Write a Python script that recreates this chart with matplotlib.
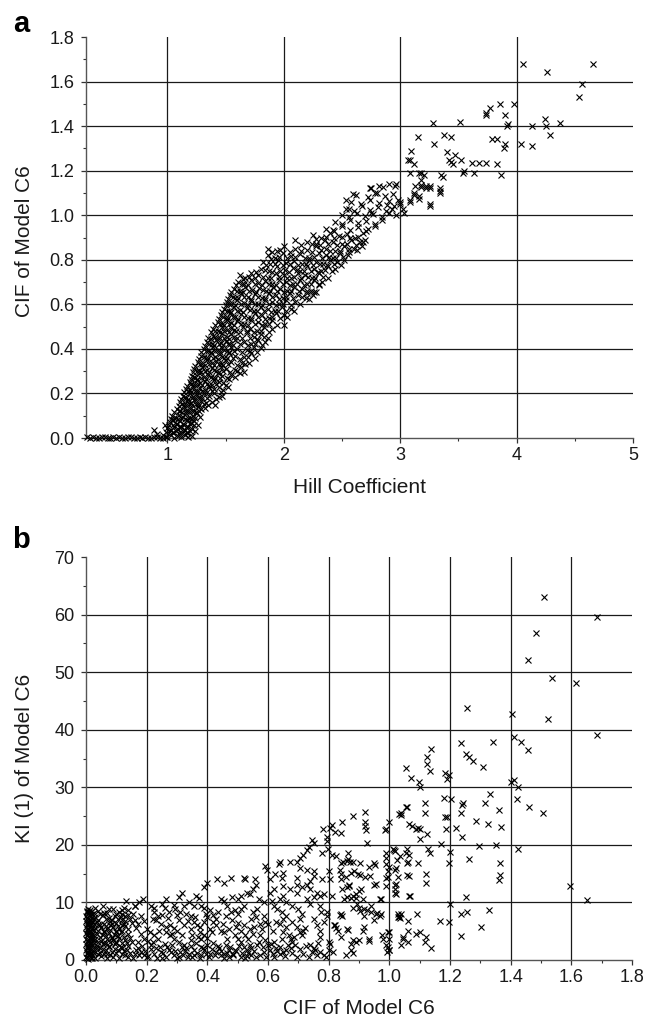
import matplotlib
matplotlib.use("Agg")
import matplotlib.pyplot as plt
from matplotlib.ticker import MultipleLocator

plt.rcParams['font.family'] = ['Liberation Sans', 'DejaVu Sans']

# ---------------- Panel a data: Hill coefficient vs CIF of Model C6 ----------------
a_flat_x = [0.31, 0.335, 0.36, 0.385, 0.41, 0.435, 0.46, 0.485, 0.51, 0.535, 0.56, 0.585,
            0.61, 0.635, 0.66, 0.685, 0.71, 0.735, 0.76, 0.785, 0.81, 0.835, 0.86, 0.885,
            0.91, 0.935, 0.96, 0.985]
a_flat_y = [0.003, 0.0, 0.004, 0.002, 0.0, 0.003, 0.004, 0.0, 0.002, 0.003, 0.0, 0.004,
            0.002, 0.0, 0.003, 0.004, 0.0, 0.002, 0.003, 0.0, 0.004, 0.002, 0.0, 0.003,
            0.004, 0.0, 0.002, 0.003]

a_band = [
    (0.96, 0.012), (1.0, 0.004), (1.03, 0.015), (1.06, 0.002), (1.09, 0.01), (1.12, 0.003),
    (1.15, 0.014), (1.18, 0.005), (1.21, 0.01), (0.99, 0.025), (1.05, 0.022), (1.11, 0.02),
    (1.17, 0.026), (0.91, 0.02), (0.88, 0.035),
    (1.0, 0.045), (1.03, 0.035), (1.06, 0.05), (1.09, 0.04), (1.12, 0.048), (1.15, 0.036),
    (1.18, 0.05), (1.21, 0.04), (1.24, 0.03), (0.98, 0.06),
    (1.02, 0.07), (1.05, 0.08), (1.08, 0.065), (1.11, 0.075), (1.14, 0.06), (1.17, 0.08),
    (1.2, 0.068), (1.23, 0.075), (1.26, 0.06),
    (1.04, 0.1), (1.07, 0.09), (1.1, 0.105), (1.13, 0.095), (1.16, 0.11), (1.19, 0.092),
    (1.22, 0.1), (1.25, 0.11), (1.28, 0.095),
    (1.08, 0.13), (1.11, 0.12), (1.14, 0.14), (1.17, 0.125), (1.2, 0.135), (1.23, 0.12),
    (1.26, 0.14), (1.29, 0.128), (1.32, 0.135),
    (1.11, 0.16), (1.14, 0.15), (1.17, 0.165), (1.2, 0.155), (1.23, 0.17), (1.26, 0.152),
    (1.29, 0.165), (1.33, 0.155), (1.38, 0.16), (1.41, 0.15),
    (1.13, 0.19), (1.16, 0.18), (1.19, 0.2), (1.22, 0.185), (1.25, 0.195), (1.28, 0.18),
    (1.31, 0.2), (1.36, 0.19), (1.4, 0.2), (1.44, 0.185), (1.47, 0.188),
    (1.16, 0.22), (1.19, 0.215), (1.22, 0.23), (1.25, 0.21), (1.28, 0.225), (1.32, 0.215),
    (1.36, 0.23), (1.4, 0.22), (1.44, 0.23), (1.48, 0.215), (1.52, 0.23),
    (1.19, 0.25), (1.22, 0.24), (1.25, 0.26), (1.28, 0.245), (1.32, 0.255), (1.36, 0.24),
    (1.4, 0.26), (1.44, 0.25), (1.48, 0.245),
    (1.21, 0.28), (1.24, 0.27), (1.27, 0.29), (1.31, 0.275), (1.35, 0.285), (1.39, 0.27),
    (1.43, 0.29), (1.47, 0.28), (1.51, 0.27), (1.55, 0.285), (1.62, 0.29),
    (1.23, 0.31), (1.27, 0.3), (1.3, 0.32), (1.34, 0.305), (1.38, 0.315), (1.42, 0.3),
    (1.46, 0.32), (1.5, 0.31), (1.58, 0.305), (1.63, 0.32),
    (1.26, 0.34), (1.3, 0.33), (1.34, 0.35), (1.38, 0.335), (1.42, 0.345), (1.46, 0.33),
    (1.5, 0.35), (1.55, 0.34), (1.64, 0.335), (1.7, 0.336),
    (1.29, 0.37), (1.33, 0.36), (1.37, 0.38), (1.41, 0.365), (1.45, 0.375), (1.49, 0.36),
    (1.53, 0.38), (1.58, 0.37), (1.66, 0.365), (1.72, 0.38),
    (1.31, 0.4), (1.35, 0.39), (1.39, 0.41), (1.43, 0.395), (1.47, 0.405), (1.51, 0.39),
    (1.55, 0.41), (1.6, 0.4), (1.68, 0.395), (1.74, 0.41), (1.8, 0.403),
    (1.34, 0.43), (1.38, 0.42), (1.42, 0.44), (1.46, 0.425), (1.5, 0.435), (1.54, 0.42),
    (1.58, 0.44), (1.66, 0.43), (1.72, 0.42), (1.78, 0.44), (1.84, 0.43),
    (1.35, 0.448), (1.39, 0.46), (1.43, 0.45), (1.47, 0.47), (1.51, 0.455), (1.55, 0.465),
    (1.6, 0.45), (1.68, 0.47), (1.74, 0.455), (1.8, 0.465), (1.86, 0.45),
    (1.39, 0.49), (1.43, 0.48), (1.47, 0.5), (1.51, 0.485), (1.55, 0.495), (1.59, 0.48),
    (1.65, 0.5), (1.71, 0.49), (1.77, 0.48), (1.83, 0.5), (1.9, 0.49),
    (1.43, 0.52), (1.47, 0.51), (1.51, 0.53), (1.55, 0.515), (1.6, 0.525), (1.66, 0.51),
    (1.72, 0.53), (1.78, 0.52), (1.84, 0.51), (1.9, 0.53), (2.0, 0.507),
    (1.46, 0.55), (1.5, 0.54), (1.54, 0.56), (1.58, 0.545), (1.63, 0.555), (1.69, 0.54),
    (1.75, 0.56), (1.81, 0.55), (1.87, 0.54), (1.93, 0.56), (2.0, 0.55),
    (1.49, 0.58), (1.53, 0.57), (1.57, 0.59), (1.62, 0.575), (1.68, 0.585), (1.74, 0.57),
    (1.8, 0.59), (1.86, 0.58), (1.92, 0.57), (1.98, 0.59), (2.06, 0.58),
    (1.51, 0.61), (1.55, 0.6), (1.6, 0.62), (1.66, 0.605), (1.72, 0.615), (1.78, 0.6),
    (1.84, 0.62), (1.9, 0.61), (1.96, 0.6), (2.02, 0.62), (2.1, 0.61), (2.19, 0.627),
    (1.54, 0.64), (1.58, 0.63), (1.63, 0.65), (1.69, 0.635), (1.75, 0.645), (1.81, 0.63),
    (1.87, 0.65), (1.93, 0.64), (1.99, 0.63), (2.05, 0.65), (2.12, 0.64), (2.2, 0.65),
    (2.25, 0.64),
    (1.57, 0.67), (1.62, 0.66), (1.67, 0.68), (1.73, 0.665), (1.79, 0.675), (1.85, 0.66),
    (1.91, 0.68), (1.97, 0.67), (2.03, 0.66), (2.09, 0.68), (2.16, 0.67), (2.23, 0.66),
    (2.28, 0.657),
    (1.61, 0.7), (1.66, 0.69), (1.72, 0.71), (1.78, 0.695), (1.84, 0.705), (1.9, 0.69),
    (1.96, 0.71), (2.02, 0.7), (2.08, 0.69), (2.14, 0.71), (2.2, 0.69), (2.26, 0.71),
    (2.33, 0.7),
    (1.62, 0.73), (1.67, 0.72), (1.72, 0.74), (1.78, 0.73), (1.86, 0.72), (1.93, 0.74),
    (2.0, 0.73), (2.06, 0.72), (2.12, 0.74), (2.18, 0.73), (2.24, 0.72), (2.3, 0.74),
    (2.38, 0.72), (2.3, 0.69),
    (1.8, 0.76), (1.87, 0.75), (1.94, 0.77), (2.01, 0.755), (2.08, 0.765), (2.14, 0.75),
    (2.2, 0.77), (2.26, 0.76), (2.32, 0.75), (2.38, 0.77), (2.44, 0.76),
    (1.82, 0.79), (1.88, 0.78), (1.95, 0.8), (2.02, 0.785), (2.09, 0.795), (2.16, 0.78),
    (2.22, 0.8), (2.28, 0.79), (2.34, 0.78), (2.4, 0.8), (2.46, 0.79), (2.52, 0.8),
    (1.86, 0.82), (1.92, 0.81), (1.99, 0.83), (2.06, 0.815), (2.14, 0.825), (2.22, 0.81),
    (2.3, 0.83), (2.36, 0.82), (2.42, 0.81), (2.48, 0.83), (2.55, 0.82),
    (1.86, 0.85), (1.94, 0.84), (2.0, 0.86), (2.1, 0.85), (2.2, 0.845), (2.28, 0.86),
    (2.36, 0.85), (2.44, 0.84), (2.52, 0.86), (2.6, 0.85), (2.67, 0.86),
    (2.1, 0.89), (2.2, 0.88), (2.28, 0.87), (2.35, 0.89), (2.42, 0.88), (2.5, 0.87),
    (2.58, 0.89), (2.65, 0.88), (2.7, 0.89),
    (2.25, 0.91), (2.32, 0.9), (2.4, 0.92), (2.47, 0.905), (2.54, 0.915), (2.61, 0.9),
    (2.68, 0.92), (2.72, 0.94),
    (2.36, 0.94), (2.43, 0.93), (2.5, 0.95), (2.57, 0.935), (2.64, 0.945), (2.71, 0.93),
    (2.78, 0.95),
    (2.44, 0.97), (2.5, 0.96), (2.57, 0.98), (2.64, 0.965), (2.71, 0.975), (2.78, 0.96),
    (2.84, 0.98),
    (2.5, 1.0), (2.56, 0.99), (2.63, 1.01), (2.7, 0.995), (2.77, 1.005), (2.84, 0.99),
    (2.9, 1.01), (2.96, 1.0),
    (2.53, 1.03), (2.6, 1.02), (2.67, 1.04), (2.74, 1.025), (2.81, 1.035), (2.88, 1.02),
    (2.95, 1.04), (3.02, 1.03), (2.93, 1.03),
    (2.58, 1.06), (2.66, 1.05), (2.74, 1.07), (2.82, 1.055), (2.9, 1.065), (2.98, 1.07),
    (3.0, 1.05), (3.08, 1.06),
    (2.62, 1.09), (2.72, 1.08), (2.8, 1.1), (2.87, 1.085), (2.94, 1.095), (3.12, 1.1),
    (3.16, 1.085), (3.26, 1.05),
    (2.74, 1.12), (2.82, 1.13), (2.9, 1.14), (2.96, 1.14), (3.18, 1.135), (3.22, 1.13),
    (3.26, 1.13), (3.34, 1.12), (3.34, 1.10),
]

a_band2 = [
    (1.015, 0.03), (1.045, 0.025), (1.075, 0.033), (1.105, 0.027), (1.135, 0.031), (1.165, 0.024), (1.195, 0.03),
    (1.01, 0.06), (1.045, 0.057), (1.075, 0.062), (1.105, 0.055), (1.135, 0.061), (1.165, 0.056), (1.195, 0.063), (1.225, 0.058),
    (1.03, 0.085), (1.06, 0.092), (1.09, 0.087), (1.12, 0.091), (1.15, 0.086), (1.18, 0.09), (1.21, 0.084), (1.24, 0.092),
    (1.06, 0.115), (1.095, 0.122), (1.125, 0.117), (1.155, 0.121), (1.185, 0.116), (1.215, 0.123), (1.245, 0.118), (1.275, 0.12),
    (1.095, 0.145), (1.125, 0.152), (1.155, 0.147), (1.185, 0.151), (1.215, 0.146), (1.245, 0.153), (1.275, 0.148), (1.31, 0.151), (1.35, 0.146),
    (1.12, 0.175), (1.15, 0.182), (1.18, 0.177), (1.21, 0.181), (1.24, 0.176), (1.27, 0.183), (1.3, 0.178), (1.34, 0.181), (1.42, 0.177),
    (1.14, 0.205), (1.175, 0.212), (1.205, 0.207), (1.235, 0.211), (1.265, 0.206), (1.3, 0.213), (1.34, 0.208), (1.38, 0.211), (1.46, 0.206),
    (1.17, 0.235), (1.205, 0.242), (1.235, 0.237), (1.265, 0.241), (1.3, 0.236), (1.34, 0.243), (1.38, 0.238), (1.42, 0.241), (1.5, 0.236),
    (1.2, 0.265), (1.225, 0.272), (1.255, 0.267), (1.29, 0.271), (1.33, 0.266), (1.37, 0.273), (1.41, 0.268), (1.45, 0.271), (1.53, 0.266), (1.58, 0.272),
    (1.22, 0.295), (1.25, 0.302), (1.285, 0.297), (1.32, 0.301), (1.36, 0.296), (1.4, 0.303), (1.44, 0.298), (1.48, 0.301), (1.54, 0.296), (1.6, 0.302), (1.66, 0.298),
    (1.24, 0.325), (1.28, 0.332), (1.32, 0.327), (1.36, 0.331), (1.4, 0.326), (1.44, 0.333), (1.48, 0.328), (1.52, 0.331), (1.6, 0.326), (1.67, 0.332),
    (1.27, 0.355), (1.31, 0.362), (1.35, 0.357), (1.39, 0.361), (1.43, 0.356), (1.47, 0.363), (1.51, 0.358), (1.56, 0.361), (1.62, 0.356), (1.69, 0.362), (1.75, 0.357),
    (1.29, 0.385), (1.33, 0.392), (1.37, 0.387), (1.41, 0.391), (1.45, 0.386), (1.49, 0.393), (1.53, 0.388), (1.57, 0.391), (1.64, 0.386), (1.71, 0.392), (1.77, 0.388),
    (1.32, 0.415), (1.36, 0.422), (1.4, 0.417), (1.44, 0.421), (1.48, 0.416), (1.52, 0.423), (1.56, 0.418), (1.62, 0.421), (1.69, 0.416), (1.75, 0.422), (1.81, 0.418),
    (1.37, 0.445), (1.41, 0.452), (1.45, 0.447), (1.49, 0.451), (1.53, 0.446), (1.57, 0.453), (1.64, 0.448), (1.71, 0.451), (1.77, 0.446), (1.83, 0.452),
    (1.37, 0.475), (1.41, 0.482), (1.45, 0.477), (1.49, 0.481), (1.53, 0.476), (1.57, 0.483), (1.62, 0.478), (1.68, 0.481), (1.74, 0.476), (1.8, 0.482), (1.87, 0.478),
    (1.41, 0.505), (1.45, 0.512), (1.49, 0.507), (1.53, 0.511), (1.57, 0.506), (1.63, 0.513), (1.69, 0.508), (1.75, 0.511), (1.81, 0.506), (1.87, 0.512), (1.94, 0.508),
    (1.44, 0.535), (1.48, 0.542), (1.52, 0.537), (1.56, 0.541), (1.61, 0.536), (1.66, 0.543), (1.72, 0.538), (1.78, 0.541), (1.84, 0.536), (1.9, 0.542), (1.97, 0.538), (2.03, 0.541),
    (1.47, 0.565), (1.51, 0.572), (1.55, 0.567), (1.6, 0.571), (1.65, 0.566), (1.71, 0.573), (1.77, 0.568), (1.83, 0.571), (1.89, 0.566), (1.95, 0.572), (2.02, 0.568), (2.09, 0.571),
    (1.5, 0.595), (1.53, 0.602), (1.58, 0.597), (1.63, 0.601), (1.69, 0.596), (1.75, 0.603), (1.81, 0.598), (1.87, 0.601), (1.93, 0.596), (1.99, 0.602), (2.06, 0.598), (2.14, 0.601),
    (1.52, 0.625), (1.56, 0.632), (1.61, 0.627), (1.66, 0.631), (1.72, 0.626), (1.78, 0.633), (1.84, 0.628), (1.9, 0.631), (1.96, 0.626), (2.02, 0.632), (2.08, 0.628), (2.16, 0.631), (2.22, 0.626),
    (1.55, 0.655), (1.6, 0.662), (1.65, 0.657), (1.7, 0.661), (1.76, 0.656), (1.82, 0.663), (1.88, 0.658), (1.94, 0.661), (2.0, 0.656), (2.06, 0.662), (2.13, 0.658), (2.2, 0.661), (2.26, 0.656),
    (1.59, 0.685), (1.64, 0.692), (1.69, 0.687), (1.75, 0.691), (1.81, 0.686), (1.87, 0.693), (1.93, 0.688), (1.99, 0.691), (2.05, 0.686), (2.11, 0.692), (2.17, 0.688), (2.23, 0.691), (2.3, 0.686),
    (1.65, 0.715), (1.7, 0.722), (1.75, 0.717), (1.82, 0.721), (1.89, 0.716), (1.96, 0.723), (2.03, 0.718), (2.09, 0.721), (2.15, 0.716), (2.21, 0.722), (2.27, 0.718), (2.34, 0.721),
    (1.76, 0.745), (1.84, 0.752), (1.9, 0.747), (1.97, 0.751), (2.04, 0.746), (2.11, 0.753), (2.17, 0.748), (2.23, 0.751), (2.29, 0.746), (2.35, 0.752), (2.41, 0.748),
    (1.85, 0.775), (1.92, 0.782), (1.99, 0.777), (2.05, 0.781), (2.12, 0.776), (2.19, 0.783), (2.25, 0.778), (2.31, 0.781), (2.37, 0.776), (2.43, 0.782), (2.49, 0.778),
    (1.89, 0.805), (1.96, 0.812), (2.03, 0.807), (2.1, 0.811), (2.18, 0.806), (2.26, 0.813), (2.33, 0.808), (2.39, 0.811), (2.45, 0.806), (2.51, 0.812),
    (1.9, 0.835), (1.97, 0.842), (2.05, 0.837), (2.15, 0.841), (2.24, 0.836), (2.32, 0.843), (2.4, 0.838), (2.48, 0.841), (2.56, 0.836), (2.63, 0.842),
    (2.15, 0.865), (2.24, 0.872), (2.31, 0.867), (2.38, 0.871), (2.46, 0.866), (2.54, 0.873), (2.62, 0.868),
    (2.28, 0.895), (2.36, 0.902), (2.43, 0.897), (2.5, 0.901), (2.57, 0.896), (2.64, 0.902),
]

a_sparse = [
    (4.055, 1.68), (4.26, 1.645), (4.655, 1.68), (4.56, 1.59), (4.535, 1.53), (3.98, 1.50),
    (3.855, 1.50), (3.775, 1.48), (3.735, 1.45), (3.74, 1.46), (3.90, 1.45), (3.28, 1.414),
    (3.51, 1.42), (3.92, 1.40), (3.93, 1.41), (4.13, 1.40), (4.24, 1.43), (4.25, 1.40),
    (4.37, 1.414), (4.29, 1.36), (3.15, 1.35), (3.38, 1.36), (3.435, 1.35), (3.29, 1.32),
    (3.79, 1.34), (3.83, 1.34), (3.90, 1.32), (3.895, 1.30), (4.04, 1.32), (4.13, 1.31),
    (3.09, 1.29), (3.07, 1.247), (3.08, 1.25), (3.12, 1.23), (3.40, 1.285), (3.42, 1.25),
    (3.47, 1.27), (3.52, 1.25), (3.45, 1.23), (3.44, 1.24), (3.62, 1.233), (3.68, 1.233),
    (3.74, 1.233), (3.83, 1.23), (3.87, 1.18), (3.08, 1.19), (3.16, 1.19), (3.18, 1.19),
    (3.20, 1.18), (3.37, 1.17), (3.35, 1.18), (3.54, 1.19), (3.55, 1.2), (3.63, 1.19),
    (3.175, 1.125), (3.22, 1.12), (3.26, 1.12), (3.34, 1.11), (3.26, 1.04), (3.08, 1.07),
    (3.12, 1.09), (3.16, 1.075), (3.0, 1.06), (3.03, 1.01), (3.13, 1.13), (3.18, 1.16),
    (2.955, 1.13), (2.85, 1.125), (2.745, 1.12), (2.78, 1.10), (2.59, 1.095), (2.53, 1.07),
    (2.56, 1.03), (2.885, 1.045), (2.75, 1.01), (2.56, 0.85), (2.42, 0.935), (2.68, 0.88),
]

# ---------------- Panel b data: CIF of Model C6 vs KI(1) of Model C6 ----------------
b_column = [
    (0.003, 0.3), (0.009, 0.8), (0.015, 0.4), (0.004, 1.3), (0.011, 1.8), (0.017, 1.2),
    (0.002, 2.3), (0.008, 2.8), (0.014, 2.2), (0.005, 3.3), (0.012, 3.8), (0.018, 3.1),
    (0.003, 4.3), (0.009, 4.8), (0.015, 4.2), (0.005, 5.3), (0.011, 5.8), (0.017, 5.1),
    (0.002, 6.3), (0.008, 6.8), (0.014, 6.2), (0.004, 7.3), (0.01, 7.8), (0.016, 7.0),
    (0.003, 8.3), (0.012, 8.6), (0.006, 0.9), (0.013, 2.9), (0.007, 4.9), (0.013, 6.9),
    (0.02, 0.8), (0.021, 2.6), (0.02, 4.6), (0.022, 6.6), (0.019, 8.0),
    (0.001, 0.6), (0.007, 0.2), (0.013, 1.0), (0.019, 0.3), (0.025, 1.2),
    (0.001, 1.7), (0.007, 1.2), (0.013, 1.9), (0.019, 1.6), (0.025, 2.2),
    (0.001, 2.7), (0.007, 2.2), (0.013, 3.0), (0.019, 2.6), (0.025, 3.4),
    (0.001, 3.7), (0.007, 3.2), (0.013, 4.0), (0.019, 3.6), (0.025, 4.4),
    (0.001, 4.7), (0.007, 4.3), (0.013, 5.0), (0.019, 4.6), (0.025, 5.2),
    (0.001, 5.7), (0.007, 5.3), (0.013, 5.9), (0.019, 5.6), (0.025, 6.3),
    (0.001, 6.7), (0.007, 6.3), (0.013, 7.0), (0.019, 6.6), (0.025, 7.2),
    (0.001, 7.6), (0.007, 7.2), (0.013, 7.9), (0.019, 7.5), (0.025, 8.1),
    (0.002, 8.5), (0.009, 8.3), (0.016, 8.4),
]

b_dense = [
    (0.03, 0.4), (0.05, 0.7), (0.07, 0.3), (0.09, 0.6), (0.11, 0.4), (0.13, 0.8),
    (0.025, 1.6), (0.045, 1.3), (0.065, 1.7), (0.085, 1.4), (0.105, 1.8), (0.125, 1.5),
    (0.145, 1.2), (0.035, 2.5), (0.055, 2.8), (0.075, 2.4), (0.095, 2.7), (0.115, 2.3),
    (0.135, 2.9), (0.03, 3.6), (0.05, 3.3), (0.07, 3.7), (0.09, 3.4), (0.11, 3.8),
    (0.13, 3.5), (0.15, 3.2), (0.035, 4.6), (0.055, 4.3), (0.075, 4.7), (0.095, 4.4),
    (0.115, 4.8), (0.14, 4.5), (0.03, 5.5), (0.05, 5.8), (0.07, 5.4), (0.09, 5.7),
    (0.11, 5.3), (0.13, 5.9), (0.035, 6.6), (0.06, 6.3), (0.08, 6.8), (0.1, 6.4),
    (0.12, 6.9), (0.03, 7.5), (0.055, 7.8), (0.075, 7.3), (0.095, 7.7), (0.115, 7.4),
    (0.14, 7.9), (0.04, 8.5), (0.06, 8.2), (0.09, 8.8), (0.11, 8.4), (0.056, 9.4),
    (0.006, 8.9), (0.132, 10.3), (0.16, 9.4), (0.125, 9.0), (0.045, 2.0), (0.065, 3.0),
    (0.085, 4.0), (0.06, 5.0), (0.08, 6.0), (0.1, 3.0), (0.04, 6.0), (0.1, 5.0),
    (0.12, 2.0), (0.02, 5.5), (0.025, 3.0), (0.07, 1.0), (0.12, 6.0),
    (0.04, 1.0), (0.06, 1.1), (0.08, 0.9), (0.1, 1.2), (0.12, 1.0), (0.14, 0.5),
    (0.035, 2.1), (0.055, 1.9), (0.075, 2.2), (0.095, 1.9), (0.115, 2.2), (0.135, 1.8),
    (0.04, 3.1), (0.06, 2.9), (0.08, 3.2), (0.1, 3.1), (0.12, 2.9), (0.14, 2.4),
    (0.045, 4.0), (0.065, 4.2), (0.085, 3.9), (0.105, 4.1), (0.125, 4.0), (0.145, 3.8),
    (0.04, 5.1), (0.06, 4.9), (0.08, 5.2), (0.1, 4.8), (0.12, 5.1), (0.14, 5.3),
    (0.045, 6.1), (0.065, 5.9), (0.085, 6.2), (0.105, 5.9), (0.125, 6.3),
    (0.04, 7.0), (0.065, 7.1), (0.085, 6.9), (0.105, 7.2), (0.13, 6.8),
    (0.045, 8.0), (0.07, 8.1), (0.1, 8.0), (0.12, 8.6), (0.075, 8.9), (0.03, 9.0),
]

b_low = [
    (0.34, 10.0), (0.356, 9.4), (0.323, 9.4), (0.295, 8.9), (0.31, 8.3), (0.33, 8.0),
    (0.345, 7.7), (0.263, 10.6), (0.252, 9.7), (0.291, 9.5), (0.307, 10.9), (0.318, 11.7),
    (0.362, 11.1), (0.373, 10.7), (0.389, 12.6), (0.4, 13.4), (0.187, 10.6), (0.176, 10.0),
    (0.225, 9.1), (0.16, 9.4), (0.26, 9.0), (0.275, 8.3), (0.25, 7.9), (0.214, 9.3),
    (0.225, 8.4), (0.236, 7.7), (0.22, 7.1), (0.23, 7.0), (0.247, 6.3), (0.263, 5.7),
    (0.277, 6.0), (0.29, 5.6), (0.307, 6.9), (0.323, 6.0), (0.345, 5.4), (0.356, 6.6),
    (0.367, 6.0), (0.2, 5.4), (0.21, 4.9), (0.225, 4.3), (0.236, 3.7), (0.263, 4.9),
    (0.277, 4.3), (0.29, 3.7), (0.307, 3.1), (0.323, 2.6), (0.345, 3.4), (0.362, 2.9),
    (0.378, 2.3), (0.214, 2.6), (0.23, 2.0), (0.247, 1.4), (0.268, 2.3), (0.28, 1.4),
    (0.29, 0.9), (0.31, 1.4), (0.32, 0.9), (0.34, 1.1), (0.356, 0.9), (0.33, 2.0),
    (0.18, 1.4), (0.19, 0.9), (0.17, 2.0), (0.19, 3.7), (0.18, 4.6), (0.17, 3.1),
    (0.16, 7.0), (0.17, 6.2), (0.18, 7.7), (0.15, 6.5), (0.156, 8.0), (0.14, 8.6),
    (0.13, 7.6), (0.145, 7.1), (0.12, 8.0), (0.2, 0.5), (0.25, 0.4), (0.3, 0.3),
    (0.35, 0.5), (0.16, 1.0), (0.22, 3.2), (0.26, 2.8), (0.3, 5.0),
]

b_bottom = [
    (0.155, 0.4), (0.165, 1.8), (0.175, 0.8), (0.185, 2.4), (0.195, 1.6), (0.205, 0.7),
    (0.215, 1.9), (0.225, 1.1), (0.235, 0.4), (0.245, 2.3), (0.255, 1.2), (0.265, 0.6),
    (0.275, 1.8), (0.285, 2.6), (0.295, 1.5), (0.305, 0.6), (0.315, 2.2), (0.325, 1.6),
    (0.335, 0.5), (0.345, 2.5), (0.355, 1.7), (0.365, 1.2), (0.375, 0.4), (0.385, 2.0),
    (0.395, 1.0), (0.405, 0.5), (0.415, 1.9), (0.425, 0.8), (0.435, 2.4), (0.445, 1.6),
    (0.455, 0.4), (0.465, 1.3), (0.475, 2.2), (0.485, 0.8), (0.495, 1.5), (0.505, 2.4),
    (0.515, 1.3), (0.525, 0.4), (0.535, 1.2), (0.545, 2.0), (0.555, 1.5), (0.565, 2.6),
    (0.575, 0.8), (0.585, 2.3), (0.595, 0.5), (0.61, 2.8), (0.62, 0.5), (0.63, 1.6),
    (0.64, 2.3), (0.655, 0.7), (0.665, 2.6), (0.68, 1.2), (0.695, 0.5), (0.705, 1.9),
    (0.715, 1.0), (0.725, 2.4), (0.735, 0.6), (0.755, 1.7), (0.765, 2.9), (0.79, 0.5),
    (0.165, 5.5), (0.19, 6.8), (0.205, 3.3), (0.24, 5.0), (0.27, 7.3), (0.285, 4.6),
    (0.3, 7.8), (0.315, 4.3), (0.335, 6.8), (0.35, 4.4), (0.36, 7.5), (0.375, 5.7),
    (0.395, 8.0), (0.415, 4.8), (0.435, 8.4), (0.45, 6.2), (0.465, 3.6), (0.48, 6.9),
    (0.495, 5.7), (0.52, 6.1), (0.535, 3.6), (0.555, 5.8), (0.565, 8.8), (0.58, 5.3),
    (0.6, 6.2), (0.615, 5.0), (0.625, 6.6), (0.64, 6.2), (0.66, 5.8), (0.68, 6.6),
]

b_mid = [
    (0.558, 14.0), (0.52, 14.3), (0.525, 14.0), (0.477, 14.3), (0.455, 13.4), (0.433, 14.0),
    (0.56, 13.1), (0.55, 12.3), (0.54, 11.4), (0.53, 11.7), (0.51, 11.1), (0.5, 10.6),
    (0.48, 10.9), (0.445, 10.6), (0.455, 10.3), (0.57, 10.6), (0.586, 10.0), (0.52, 9.4),
    (0.51, 8.9), (0.5, 8.0), (0.49, 8.6), (0.466, 9.4), (0.477, 8.3), (0.46, 7.7),
    (0.55, 8.3), (0.56, 7.4), (0.545, 7.1), (0.586, 7.7), (0.59, 6.6), (0.575, 6.3),
    (0.41, 8.6), (0.42, 7.9), (0.4, 7.4), (0.43, 7.1), (0.38, 9.4), (0.39, 9.1),
    (0.42, 6.6), (0.43, 6.0), (0.41, 5.4), (0.445, 5.1), (0.455, 4.9), (0.47, 5.4),
    (0.49, 4.3), (0.51, 5.1), (0.525, 4.3), (0.54, 5.4), (0.55, 4.6), (0.5, 3.7),
    (0.51, 3.1), (0.52, 2.3), (0.53, 1.7), (0.54, 2.6), (0.46, 2.6), (0.47, 1.7),
    (0.455, 1.1), (0.485, 1.1), (0.44, 2.0), (0.43, 1.4), (0.446, 0.9), (0.575, 4.3),
    (0.57, 3.1), (0.586, 1.4), (0.51, 0.6), (0.53, 0.7), (0.545, 0.9), (0.56, 0.6),
    (0.375, 4.9), (0.39, 4.3), (0.37, 4.0), (0.38, 3.7), (0.4, 3.9), (0.389, 6.6),
    (0.4, 2.6), (0.39, 1.7), (0.41, 1.1), (0.38, 0.9), (0.47, 0.5), (0.49, 1.8),
    (0.42, 3.0), (0.5, 6.5),
]

b_upper = [
    (0.591, 16.3), (0.597, 15.7), (0.651, 15.1), (0.646, 14.3), (0.624, 14.9), (0.608, 14.0),
    (0.64, 17.1), (0.635, 16.6), (0.673, 17.1), (0.695, 17.1), (0.706, 17.7), (0.717, 18.3),
    (0.728, 19.1), (0.734, 19.7), (0.745, 20.9), (0.75, 20.4), (0.78, 22.7), (0.794, 21.4),
    (0.794, 20.6), (0.81, 23.4), (0.843, 24.0), (0.82, 22.3), (0.84, 22.1), (0.881, 25.0),
    (0.706, 16.0), (0.728, 15.7), (0.75, 15.4), (0.75, 14.6), (0.74, 13.7), (0.73, 13.0),
    (0.74, 12.4), (0.695, 14.3), (0.695, 13.0), (0.695, 11.7), (0.711, 12.6), (0.673, 12.3),
    (0.651, 12.9), (0.651, 11.1), (0.64, 10.6), (0.619, 12.3), (0.608, 11.7), (0.614, 10.3),
    (0.619, 9.4), (0.63, 8.9), (0.645, 8.3), (0.66, 7.7), (0.65, 7.1), (0.7, 8.9),
    (0.711, 8.0), (0.706, 7.1), (0.66, 10.0), (0.68, 9.4), (0.728, 10.6), (0.74, 9.7),
    (0.77, 9.4), (0.775, 8.3), (0.75, 7.1), (0.76, 6.0), (0.77, 5.1), (0.695, 5.7),
    (0.706, 4.9), (0.711, 4.3), (0.717, 5.1), (0.722, 5.5), (0.67, 4.3), (0.675, 3.7),
    (0.686, 4.0), (0.68, 3.1), (0.69, 2.6), (0.675, 2.0), (0.66, 1.7), (0.74, 2.6),
    (0.75, 2.0), (0.745, 1.4), (0.65, 4.9), (0.645, 3.7), (0.62, 3.1), (0.625, 2.0),
    (0.615, 1.1), (0.6, 2.6), (0.605, 1.7), (0.591, 3.4), (0.64, 1.1), (0.65, 1.4),
    (0.76, 0.9), (0.77, 1.4), (0.777, 18.6), (0.777, 14.0), (0.783, 11.4), (0.76, 11.7),
    (0.77, 11.1), (0.75, 10.9), (0.783, 6.6), (0.772, 4.0), (0.783, 0.9), (0.795, 8.3),
    (0.795, 7.7),
]

b_high = [
    (0.919, 25.7), (0.92, 24.0), (0.92, 23.3), (0.922, 22.5), (0.925, 20.3), (0.985, 22.6),
    (1.0, 24.0), (0.81, 18.3), (0.865, 18.6), (0.848, 17.0), (0.86, 17.2), (0.87, 17.0),
    (0.88, 17.1), (0.903, 16.9), (0.951, 16.9), (0.99, 17.7), (0.99, 16.6), (0.995, 15.4),
    (0.99, 14.3), (0.988, 12.9), (0.951, 13.1), (0.935, 14.6), (0.903, 14.7), (0.873, 15.1),
    (0.885, 15.4), (0.84, 14.9), (0.84, 14.0), (0.868, 13.1), (0.862, 12.6), (0.843, 12.3),
    (0.8, 15.4), (0.805, 14.0), (0.81, 11.1), (0.85, 10.6), (0.86, 11.0), (0.873, 10.8),
    (0.88, 11.1), (0.89, 10.7), (0.9, 12.0), (0.914, 10.6), (0.968, 10.6), (0.9, 9.1),
    (0.915, 8.8), (0.925, 8.6), (0.94, 8.3), (0.955, 8.0), (0.84, 8.0), (0.845, 7.7),
    (0.82, 6.0), (0.825, 5.5), (0.83, 5.1), (0.862, 5.3), (0.88, 3.4), (0.89, 3.1),
    (0.9, 3.4), (0.914, 5.1), (0.934, 3.7), (0.948, 6.9), (0.975, 4.3), (0.996, 4.9),
    (0.99, 2.6), (1.0, 1.7), (0.875, 1.7), (0.88, 1.3), (0.857, 0.9), (0.8, 3.1),
    (0.8, 1.7), (0.842, 16.8), (0.864, 17.5), (0.889, 11.5), (0.907, 12.3), (0.92, 14.4),
    (0.933, 16.2), (0.954, 16.5), (0.957, 13.2), (0.971, 10.6), (0.96, 8.2), (0.968, 7.6),
    (0.94, 9.4), (0.904, 8.5), (0.918, 7.6), (0.918, 5.8), (0.933, 3.3), (0.979, 3.7),
    (0.875, 2.8), (0.864, 5.2), (0.84, 4.0), (0.817, 6.1), (0.836, 7.9), (0.814, 1.4),
    (0.803, 2.8), (0.825, 18.0), (0.798, 19.2), (0.803, 23.0), (0.858, 14.4), (0.897, 15.0),
    (0.867, 12.9), (0.836, 15.6), (0.88, 9.1), (0.893, 9.7), (0.974, 8.0),
]

b_sparse = [
    (1.51, 63.0), (1.686, 59.6), (1.483, 56.8), (1.457, 52.1), (1.537, 49.0), (1.614, 48.2),
    (1.255, 43.8), (1.403, 42.7), (1.522, 41.8), (1.686, 39.05), (1.41, 38.75), (1.433, 37.9),
    (1.457, 36.4), (1.342, 37.9), (1.237, 37.7), (1.138, 36.6), (1.125, 35.2), (1.125, 34.0),
    (1.133, 32.9), (1.254, 35.8), (1.276, 34.6), (1.262, 35.3), (1.309, 33.5), (1.056, 33.4),
    (1.07, 31.6), (1.098, 31.0), (1.10, 30.0), (1.182, 32.5), (1.196, 32.1), (1.19, 31.5),
    (1.402, 31.0), (1.41, 31.2), (1.424, 30.0), (1.331, 28.8), (1.317, 27.3), (1.18, 28.2),
    (1.202, 28.0), (1.243, 27.2), (1.241, 27.0), (1.118, 27.3), (1.119, 25.6), (1.058, 26.6),
    (1.037, 25.6), (1.032, 25.4), (1.422, 28.0), (1.461, 26.6), (1.507, 25.6), (1.361, 26.0),
    (1.236, 25.6), (1.185, 24.8), (1.19, 24.9), (1.287, 24.2), (1.326, 23.7), (1.369, 23.1),
    (1.221, 23.0), (1.24, 21.4), (1.188, 22.7), (1.171, 20.2), (1.201, 18.7), (1.197, 16.9),
    (1.262, 17.5), (1.296, 19.8), (1.35, 19.9), (1.423, 19.3), (1.366, 16.9), (1.366, 14.7),
    (1.361, 13.9), (1.595, 12.8), (1.652, 10.4), (1.254, 11.0), (1.201, 9.7), (1.235, 8.0),
    (1.257, 8.4), (1.33, 8.7), (1.166, 6.7), (1.197, 6.6), (1.301, 5.7), (1.237, 4.2),
    (1.10, 22.8), (1.094, 22.9), (1.102, 21.0), (1.124, 21.8), (1.127, 19.3), (1.133, 18.6),
    (1.12, 14.9), (1.122, 13.4), (1.094, 16.8), (1.065, 23.6), (1.076, 23.2), (1.087, 22.8),
    (1.059, 19.3), (1.064, 18.3), (1.059, 16.8), (1.058, 14.8), (1.067, 11.2), (1.034, 7.3),
    (1.032, 7.7), (1.045, 3.7), (1.061, 3.1), (1.089, 4.6), (1.10, 4.8), (1.122, 4.0),
    (1.136, 2.0), (1.116, 3.1), (0.999, 4.9), (1.0, 3.7), (0.996, 2.3), (0.999, 1.7),
    (0.992, 1.4), (1.025, 17.4), (1.034, 18.0), (1.023, 15.9), (1.03, 14.4), (1.023, 13.2),
    (1.023, 11.5), (0.996, 14.4), (0.999, 16.2), (0.99, 18.6), (0.988, 22.7), (1.012, 19.2),
    (1.02, 18.9), (1.032, 7.5), (1.037, 8.0), (1.062, 6.7), (1.09, 8.0), (1.056, 26.6),
    (1.04, 25.1), (1.017, 19.1), (1.055, 18.6), (1.06, 17.1), (1.066, 14.6), (1.066, 11.1),
    (1.02, 15.7), (1.02, 13.1), (1.02, 12.4), (1.02, 11.6), (1.03, 8.0), (1.03, 7.4),
    (1.045, 4.0), (1.04, 2.6), (1.06, 5.1),
]

# ---------------- Figure ----------------
W, H = 648, 1017
fig = plt.figure(figsize=(W / 100, H / 100), dpi=100)

def px_axes(l, t, r, b):
    return fig.add_axes([l / W, 1 - b / H, (r - l) / W, (b - t) / H])

ax1 = px_axes(86, 37, 633, 438)
ax2 = px_axes(86, 557, 632, 960)

mk = dict(ls='none', marker='x', ms=4.2, mew=0.8, color='black', zorder=3, clip_on=False)

def split(pts):
    return [p[0] for p in pts], [p[1] for p in pts]

ax1.plot(a_flat_x, a_flat_y, **mk)
for pts in (a_band, a_band2, a_sparse):
    xs, ys = split(pts)
    ax1.plot(xs, ys, **mk)

for pts in (b_column, b_dense, b_low, b_bottom, b_mid, b_upper, b_high, b_sparse):
    xs, ys = split(pts)
    ax2.plot(xs, ys, **mk)

grid_kw = dict(color='#1a1a1a', lw=0.9, zorder=1)

def style(ax, xlim, ylim, xmaj, xmin, ymaj, ymin, xgrid, ygrid):
    ax.set_xlim(*xlim)
    ax.set_ylim(*ylim)
    ax.xaxis.set_major_locator(MultipleLocator(xmaj))
    ax.xaxis.set_minor_locator(MultipleLocator(xmin))
    ax.yaxis.set_major_locator(MultipleLocator(ymaj))
    ax.yaxis.set_minor_locator(MultipleLocator(ymin))
    for v in xgrid:
        ax.axvline(v, **grid_kw)
    for v in ygrid:
        ax.axhline(v, **grid_kw)
    for s in ('top', 'right'):
        ax.spines[s].set_visible(False)
    for s in ('left', 'bottom'):
        ax.spines[s].set_color('#555555')
        ax.spines[s].set_linewidth(1.0)
    ax.tick_params(which='major', direction='out', length=3.8, width=0.9, color='#333333',
                   labelsize=13, labelcolor='#1a1a1a')
    ax.tick_params(axis='x', which='major', pad=2.5)
    ax.tick_params(axis='y', which='major', pad=4.5)
    ax.tick_params(which='minor', direction='out', length=2.3, width=0.8, color='#333333')
    ax.set_facecolor('white')

style(ax1, (0.3, 5.0), (0.0, 1.8), 1, 0.5, 0.2, 0.1, [1, 2, 3, 4],
      [0.2, 0.4, 0.6, 0.8, 1.0, 1.2, 1.4, 1.6])
ax1.xaxis.set_major_formatter(plt.FuncFormatter(lambda v, p: f"{v:.0f}"))
ax1.yaxis.set_major_formatter(plt.FuncFormatter(lambda v, p: f"{v:.1f}"))

style(ax2, (0.0, 1.8), (0, 70), 0.2, 0.1, 10, 5,
      [0.2, 0.4, 0.6, 0.8, 1.0, 1.2, 1.4, 1.6], [10, 20, 30, 40, 50, 60])
ax2.xaxis.set_major_formatter(plt.FuncFormatter(lambda v, p: f"{v:.1f}"))
ax2.yaxis.set_major_formatter(plt.FuncFormatter(lambda v, p: f"{v:.0f}"))

lab = dict(fontsize=15, color='#1a1a1a')
ax1.set_xlabel("Hill Coefficient", **lab)
ax1.set_ylabel("CIF of Model C6", **lab)
ax2.set_xlabel("CIF of Model C6", **lab)
ax2.set_ylabel("KI (1) of Model C6", **lab)
ax1.xaxis.set_label_coords(0.5, (438 - 478) / 401)
ax2.xaxis.set_label_coords(0.5, (960 - 999) / 403)
ax1.yaxis.set_label_coords((34 - 86) / 547, 0.49)
ax2.yaxis.set_label_coords((34 - 86) / 546, 0.5)

fig.text(21 / W, 1 - 24 / H, "a", fontsize=21, fontweight='bold', va='center', ha='center')
fig.text(21 / W, 1 - 540 / H, "b", fontsize=21, fontweight='bold', va='center', ha='center')

fig.savefig("out.png", dpi=100, facecolor='white')
